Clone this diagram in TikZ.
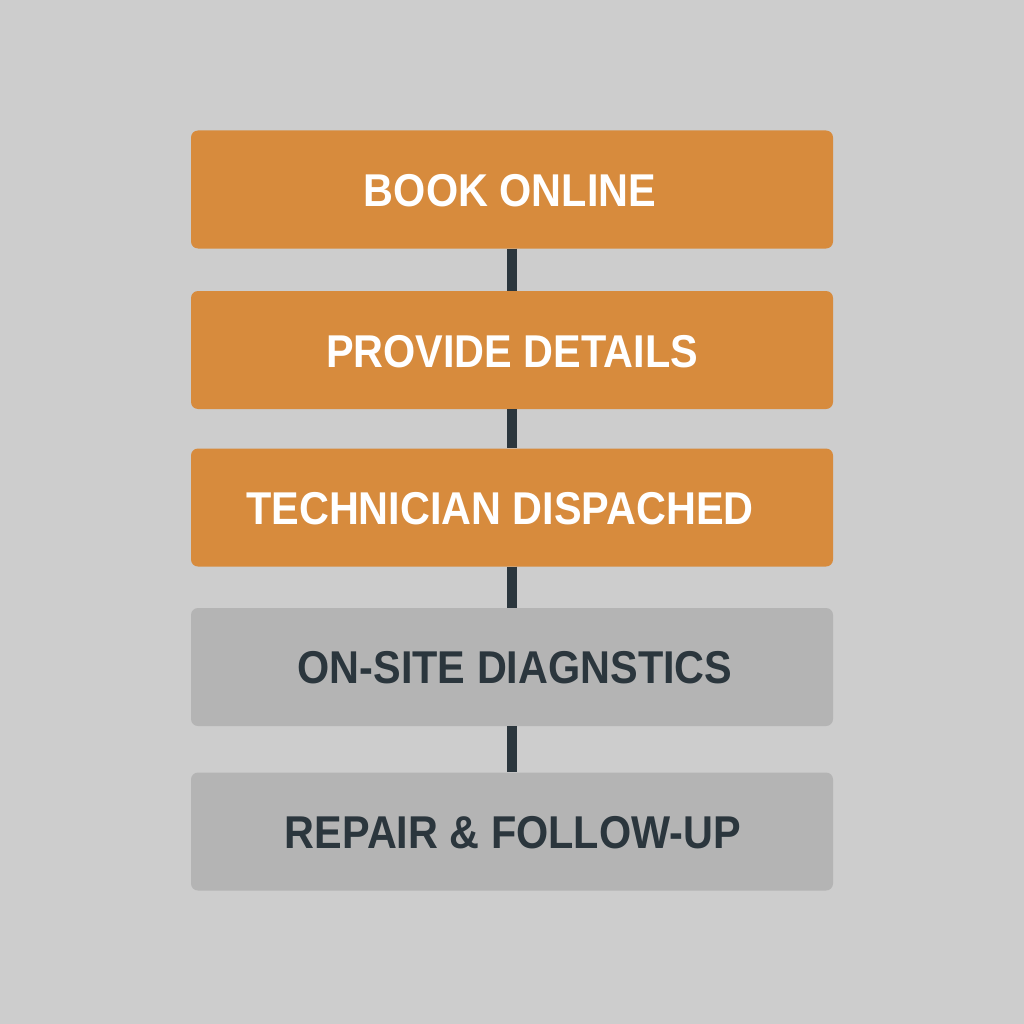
\documentclass[tikz,border=0pt]{standalone}
\usepackage{fontspec}
\setmainfont{Liberation Sans}[FakeStretch=0.9]
\definecolor{bg}{HTML}{CDCDCD}
\definecolor{orng}{HTML}{D78B3D}
\definecolor{gry}{HTML}{B4B4B4}
\definecolor{dark}{HTML}{2B363D}
\tikzset{
  stepbox/.style={rounded corners=7pt, minimum width=642pt, minimum height=118pt, inner sep=0pt,
    font=\fontsize{46}{50}\selectfont\bfseries},
  active/.style={stepbox, fill=orng, text=white},
  idle/.style={stepbox, fill=gry, text=dark},
  link/.style={draw=dark, line width=10pt}
}
\begin{document}
\begin{tikzpicture}[x=1pt,y=-1pt]
\fill[bg] (0,0) rectangle (1024,1024);
\useasboundingbox (0,0) rectangle (1024,1024);
\node[active] (b1) at (512,189.5) {};
\node[active] (b2) at (512,350) {};
\node[active] (b3) at (512,507.5) {};
\node[idle] (b4) at (512,667) {};
\node[idle] (b5) at (512,831.5) {};
\node[text=white, font=\fontsize{46}{50}\selectfont\bfseries] (t1) at (510,191) {BOOK ONLINE};
\node[text=white, font=\fontsize{46}{50}\selectfont\bfseries] (t2) at (512,352) {PROVIDE DETAILS};
\node[text=white, font=\fontsize{46}{50}\selectfont\bfseries] (t3) at (500,509) {TECHNICIAN DISPACHED};
\node[text=dark, font=\fontsize{46}{50}\selectfont\bfseries] (t4) at (515,668) {ON-SITE DIAGNSTICS};
\node[text=dark, font=\fontsize{46}{50}\selectfont\bfseries] (t5) at (513,833) {REPAIR \& FOLLOW-UP};
\draw[link] (b1.south) -- (b2.north);
\draw[link] (b2.south) -- (b3.north);
\draw[link] (b3.south) -- (b4.north);
\draw[link] (b4.south) -- (b5.north);
\end{tikzpicture}
\end{document}
